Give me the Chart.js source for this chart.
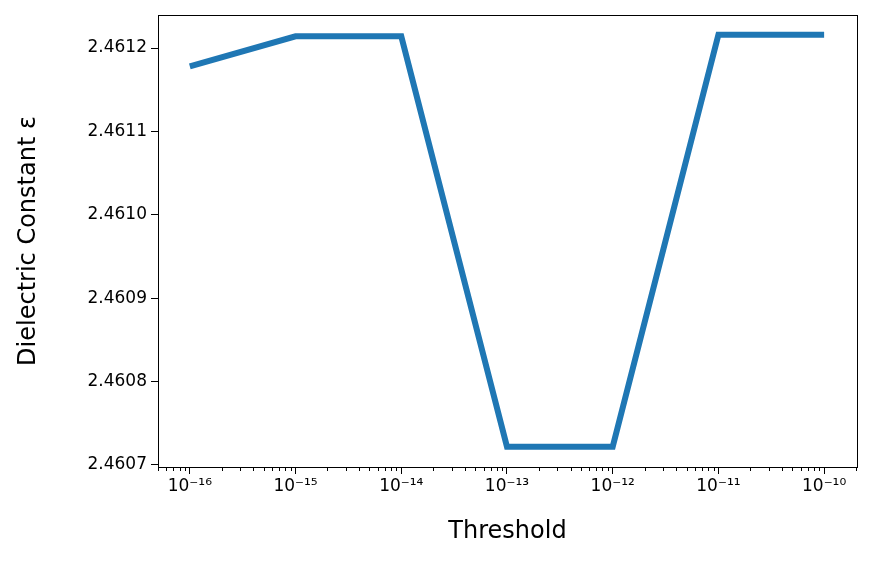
<!DOCTYPE html>
<html>
<head>
<meta charset="utf-8">
<script src="https://cdn.jsdelivr.net/npm/chart.js@4/dist/chart.umd.min.js"></script>
<style>
  html, body { margin: 0; padding: 0; background: #fff; }
  #wrap { width: 873px; height: 566px; }
</style>
</head>
<body>
<div id="wrap"><canvas id="myChart"></canvas></div>
<script>
const thresholds = [1e-16, 1e-15, 1e-14, 1e-13, 1e-12, 1e-11, 1e-10];
const epsilon = [2.461178, 2.461214, 2.461214, 2.460722, 2.460722, 2.461216, 2.461216];
const yTicks = [2.4607, 2.4608, 2.4609, 2.4610, 2.4611, 2.4612];
const xTickLabels = ["10⁻¹⁶", "10⁻¹⁵", "10⁻¹⁴", "10⁻¹³", "10⁻¹²", "10⁻¹¹", "10⁻¹⁰"];

const font = "'DejaVu Sans', sans-serif";

// frame around the plot + minor log ticks
const framePlugin = {
  id: "frame",
  afterDraw(chart) {
    const { ctx, chartArea: a } = chart;
    const xs = chart.scales.x;
    ctx.save();
    ctx.strokeStyle = "#000";
    ctx.lineWidth = 1;
    ctx.strokeRect(a.left + 0.5, a.top + 0.5, a.right - a.left, a.bottom - a.top);
    ctx.beginPath();
    for (let e = -17; e <= -10; e++) {
      for (let m = 2; m <= 9; m++) {
        const v = m * Math.pow(10, e);
        if (v < xs.min || v > xs.max) continue;
        const px = Math.round(xs.getPixelForValue(v)) + 0.5;
        ctx.moveTo(px, a.bottom);
        ctx.lineTo(px, a.bottom + 4);
      }
    }
    ctx.stroke();
    ctx.restore();
  }
};

new Chart(document.getElementById("myChart"), {
  type: "line",
  data: {
    datasets: [{
      data: thresholds.map((t, i) => ({ x: t, y: epsilon[i] })),
      borderColor: "#1f77b4",
      borderWidth: 6,
      pointRadius: 0,
      tension: 0,
      fill: false,
    }],
  },
  options: {
    responsive: true,
    maintainAspectRatio: false,
    animation: false,
    layout: { padding: { top: 15, right: 16, left: 14, bottom: 20 } },
    plugins: { legend: { display: false }, tooltip: { enabled: false } },
    scales: {
      x: {
        type: "logarithmic",
        min: Math.pow(10, -16.273),
        max: Math.pow(10, -9.689),
        afterBuildTicks: (s) => { s.ticks = thresholds.map((v) => ({ value: v })); },
        afterFit: (s) => { s.height = 79; },
        grid: { drawOnChartArea: false, drawTicks: true, tickLength: 7, color: "#000" },
        border: { display: false },
        ticks: {
          color: "#000",
          font: { family: font, size: 17 },
          padding: 2,
          maxRotation: 0,
          callback: (v) => xTickLabels[thresholds.findIndex((t) => Math.abs(Math.log10(t) - Math.log10(v)) < 1e-6)] || "",
        },
        title: { display: true, text: "Threshold", color: "#000", font: { family: font, size: 24 }, padding: 0 },
      },
      y: {
        min: 2.4606976,
        max: 2.4612396,
        afterBuildTicks: (s) => { s.ticks = yTicks.map((v) => ({ value: v })); },
        afterFit: (s) => { s.width = 144; },
        grid: { drawOnChartArea: false, drawTicks: true, tickLength: 7, color: "#000" },
        border: { display: false },
        ticks: {
          color: "#000",
          font: { family: font, size: 17 },
          padding: 4,
          callback: (v) => Number(v).toFixed(4),
        },
        title: { display: true, text: "Dielectric Constant ε", color: "#000", font: { family: font, size: 24 }, padding: 0 },
      },
    },
  },
  plugins: [framePlugin],
});
</script>
</body>
</html>
